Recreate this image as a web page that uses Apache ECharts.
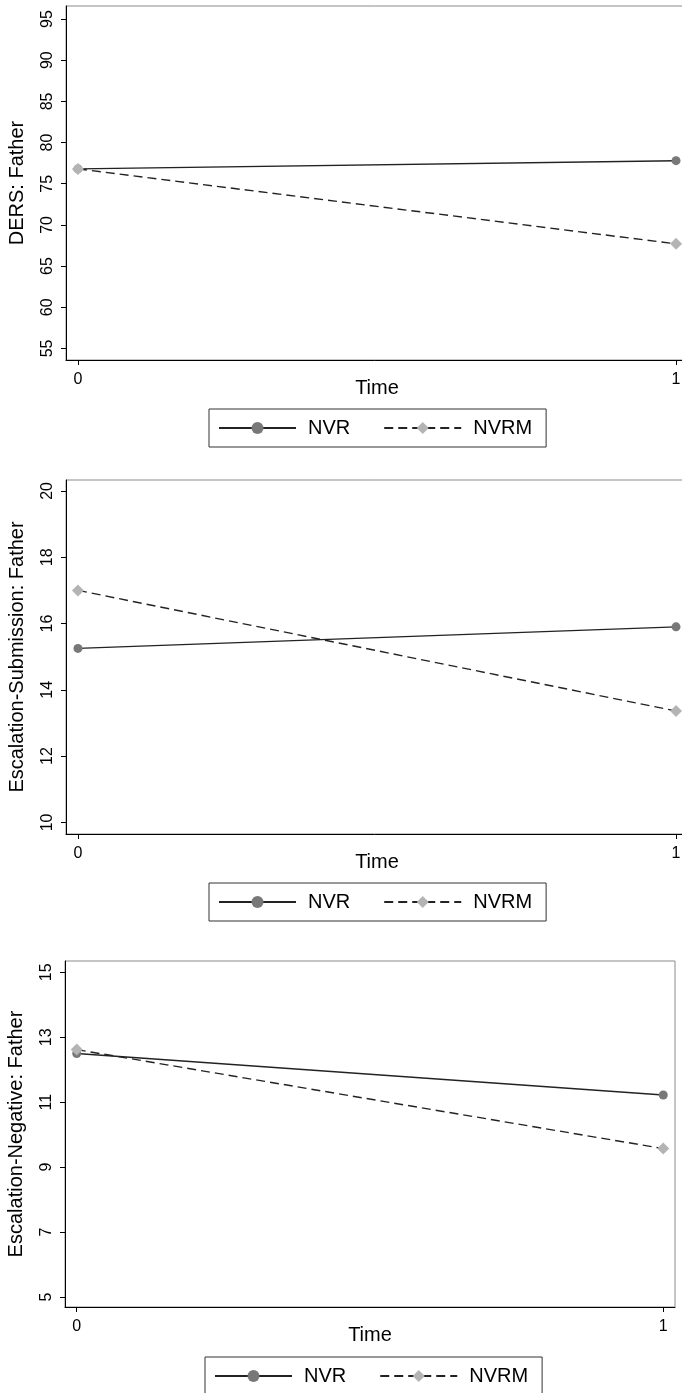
<!DOCTYPE html>
<html><head><meta charset="utf-8">
<script src="https://cdn.jsdelivr.net/npm/echarts@6/dist/echarts.min.js"></script>
<style>html,body{margin:0;padding:0;background:#fff}#c{width:682px;height:1393px}</style>
</head><body><div id="c"></div>
<script>
// ---- data ----
const timePoints = [0, 1];
const xTickValues = [0, 1];
const seriesNames = ['NVR', 'NVRM'];
const yTitles = ['DERS: Father', 'Escalation-Submission: Father', 'Escalation-Negative: Father'];
const xTitle = 'Time';
const dersNVR = [76.8, 77.8];
const dersNVRM = [76.8, 67.7];
const subNVR = [15.25, 15.9];
const subNVRM = [17.0, 13.36];
const negNVR = [12.5, 11.22];
const negNVRM = [12.62, 9.57];
const dersTicks = [55, 60, 65, 70, 75, 80, 85, 90, 95];
const subTicks = [10, 12, 14, 16, 18, 20];
const negTicks = [5, 7, 9, 11, 13, 15];

// ---- layout ----
const FONT = 'Liberation Sans, Arial, Helvetica, sans-serif';
const panels = [
  {grid: {left: 66, top: 6, width: 622, height: 354}, y: [53.6, 96.58], ticks: dersTicks, nvr: dersNVR, nvrm: dersNVRM, legend: {left: 209, top: 409}},
  {grid: {left: 66, top: 480, width: 622, height: 354}, y: [9.65, 20.33], ticks: subTicks, nvr: subNVR, nvrm: subNVRM, legend: {left: 209, top: 883}},
  {grid: {left: 65, top: 961, width: 610, height: 346}, y: [4.69, 15.35], ticks: negTicks, nvr: negNVR, nvrm: negNVRM, legend: {left: 205, top: 1357}}
];

const grid = [], xAxis = [], yAxis = [], series = [], legend = [];
panels.forEach((p, i) => {
  grid.push(Object.assign({show: true, borderColor: '#8a8a8a', borderWidth: 1, backgroundColor: '#fff', containLabel: false, outerBoundsMode: 'none'}, p.grid));
  xAxis.push({
    type: 'value', gridIndex: i, min: -0.02, max: 1.02,
    name: xTitle, nameLocation: 'middle', nameGap: 18, nameMoveOverlap: false,
    nameTextStyle: {fontSize: 20, fontFamily: FONT, color: '#000'},
    axisLine: {show: true, onZero: false, lineStyle: {color: '#000', width: 1}},
    axisTick: {show: true, length: 5, customValues: xTickValues, lineStyle: {color: '#000'}},
    axisLabel: {customValues: xTickValues, fontSize: 16, fontFamily: FONT, color: '#000', margin: 12},
    splitLine: {show: false}
  });
  yAxis.push({
    type: 'value', gridIndex: i, min: p.y[0], max: p.y[1],
    name: yTitles[i], nameLocation: 'middle', nameGap: 39, nameRotate: 90, nameMoveOverlap: false,
    nameTextStyle: {fontSize: 20, fontFamily: FONT, color: '#000'},
    axisLine: {show: true, onZero: false, lineStyle: {color: '#000', width: 1}},
    axisTick: {show: true, length: 5, customValues: p.ticks, lineStyle: {color: '#000'}},
    axisLabel: {customValues: p.ticks, rotate: 90, fontSize: 16, fontFamily: FONT, color: '#000', margin: 10},
    splitLine: {show: false}
  });
  series.push({
    name: seriesNames[0], type: 'line', xAxisIndex: i, yAxisIndex: i,
    data: timePoints.map((t, k) => [t, p.nvr[k]]),
    symbol: 'circle', symbolSize: 9, showAllSymbol: true,
    itemStyle: {color: '#787878'},
    lineStyle: {color: '#222', width: 1.4, type: 'solid'},
    emphasis: {disabled: true}, clip: false
  });
  series.push({
    name: seriesNames[1], type: 'line', xAxisIndex: i, yAxisIndex: i,
    data: timePoints.map((t, k) => [t, p.nvrm[k]]),
    symbol: 'diamond', symbolSize: 12, showAllSymbol: true,
    itemStyle: {color: '#b4b4b4'},
    lineStyle: {color: '#222', width: 1.4, type: [9, 5]},
    emphasis: {disabled: true}, clip: false
  });
  legend.push({
    left: p.legend.left, top: p.legend.top, orient: 'horizontal',
    data: seriesNames,
    padding: [9, 14, 9, 9], itemWidth: 77, itemHeight: 15, itemGap: 33,
    borderColor: '#333', borderWidth: 1, backgroundColor: '#fff',
    textStyle: {fontSize: 20, fontFamily: FONT, color: '#000', padding: [0, 0, 0, 7], lineHeight: 20},
    selectedMode: false
  });
});

const chart = echarts.init(document.getElementById('c'), null, {renderer: 'canvas'});
chart.setOption({animation: false, backgroundColor: '#fff', grid, xAxis, yAxis, series, legend});
</script>
</body></html>
